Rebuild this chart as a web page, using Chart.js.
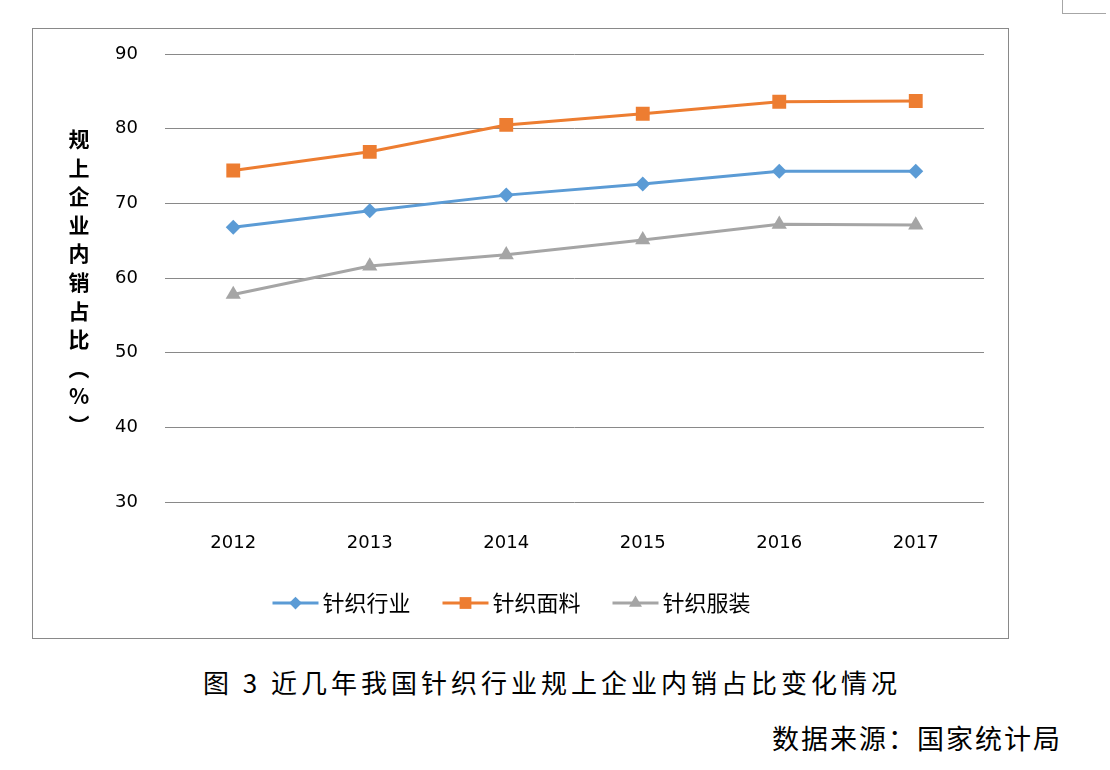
<!DOCTYPE html>
<html>
<head>
<meta charset="utf-8">
<script src="https://cdn.jsdelivr.net/npm/chart.js@4"></script>
<style>
  body { margin: 0; width: 1110px; height: 770px; background: #fff; position: relative; overflow: hidden;
         font-family: "Noto Sans CJK SC", sans-serif; }
  #box { position: absolute; left: 32px; top: 28px; width: 975px; height: 609px; border: 1px solid #898989; }
  #box canvas { display: block; }
  #ytitle { position: absolute; left: 64px; top: 124px; width: 30px; text-align: center;
            font-size: 21px; font-weight: bold; line-height: 28.6px; color: #000; }
  #caption { position: absolute; left: 203px; top: 664px; font-size: 26px; letter-spacing: 4px;
             color: #000; white-space: nowrap; line-height: 36px; }
  #source { position: absolute; right: 48px; top: 720px; font-size: 27px; letter-spacing: 2px;
            color: #000; white-space: nowrap; line-height: 36px; }
  #corner { position: absolute; left: 1062px; top: -1px; width: 43px; height: 14px;
            border-left: 1px solid #a6a6a6; border-bottom: 1px solid #a6a6a6; }
</style>
</head>
<body>
<div id="corner"></div>
<div id="box"><canvas id="chart" width="975" height="609"></canvas></div>
<div id="ytitle">规<br>上<br>企<br>业<br>内<br>销<br>占<br>比<br>︵<br>%<br>︶</div>
<div id="caption">图 3 近几年我国针织行业规上企业内销占比变化情况</div>
<div id="source">数据来源：国家统计局</div>
<script>
const years = ['2012', '2013', '2014', '2015', '2016', '2017'];
const knitIndustry = [66.8, 69.0, 71.1, 72.6, 74.3, 74.3];
const knitFabric = [74.4, 76.9, 80.5, 82.0, 83.6, 83.7];
const knitApparel = [57.8, 61.6, 63.1, 65.1, 67.2, 67.1];
const yMin = 30, yMax = 90, yStep = 10;

// legend under the plot: short line with the marker in the middle, then the label
const bottomLegend = {
    id: 'bottomLegend',
    afterDraw(chart) {
        const ctx = chart.ctx;
        ctx.save();
        ctx.font = '22px "Noto Sans CJK SC"';
        ctx.textBaseline = 'middle';
        const lineLen = 46, gap = 4, itemGap = 32;
        const items = chart.data.datasets.map(ds => ({ ds: ds, w: ctx.measureText(ds.label).width }));
        let total = items.reduce((s, it) => s + lineLen + gap + it.w, 0) + itemGap * (items.length - 1);
        let x = chart.width / 2 - 9 - total / 2;
        const y = 574;
        items.forEach(it => {
            const ds = it.ds;
            ctx.strokeStyle = ds.borderColor;
            ctx.lineWidth = 3;
            ctx.beginPath();
            ctx.moveTo(x, y);
            ctx.lineTo(x + lineLen, y);
            ctx.stroke();
            ctx.fillStyle = ds.borderColor;
            if (Chart.helpers && Chart.helpers.drawPoint) {
                Chart.helpers.drawPoint(ctx, {
                    pointStyle: ds.pointStyle, rotation: 0,
                    radius: ds.pointRadius * 0.85, borderWidth: 0
                }, x + lineLen / 2, y);
            }
            ctx.fillStyle = '#000';
            ctx.fillText(ds.label, x + lineLen + gap, y);
            x += lineLen + gap + it.w + itemGap;
        });
        ctx.restore();
    }
};

new Chart(document.getElementById('chart'), {
    type: 'line',
    data: {
        labels: years,
        datasets: [
            { label: '针织行业', data: knitIndustry, borderColor: '#5B9BD5', backgroundColor: '#5B9BD5',
              borderWidth: 3, pointStyle: 'rectRot', pointRadius: 7.5, pointBorderWidth: 0, tension: 0 },
            { label: '针织面料', data: knitFabric, borderColor: '#ED7D31', backgroundColor: '#ED7D31',
              borderWidth: 3, pointStyle: 'rect', pointRadius: 9.8, pointBorderWidth: 0, tension: 0 },
            { label: '针织服装', data: knitApparel, borderColor: '#A5A5A5', backgroundColor: '#A5A5A5',
              borderWidth: 3, pointStyle: 'triangle', pointRadius: 8.8, pointBorderWidth: 0, tension: 0 }
        ]
    },
    options: {
        responsive: false,
        animation: false,
        devicePixelRatio: 1,
        layout: { padding: { top: 25, right: 24, left: 0, bottom: 0 } },
        plugins: { legend: { display: false }, tooltip: { enabled: false } },
        scales: {
            x: {
                offset: true,
                grid: { display: false },
                border: { display: false },
                ticks: { color: '#000', padding: 23, font: { family: 'DejaVu Sans', size: 18 } },
                afterFit(scale) { scale.height = 136; }
            },
            y: {
                min: yMin, max: yMax,
                grid: { color: '#898989', lineWidth: 1, drawTicks: false },
                border: { display: false },
                ticks: { stepSize: yStep, color: '#000', padding: 27, font: { family: 'DejaVu Sans', size: 18 } },
                afterFit(scale) {
                    scale.width = 132;
                    scale.paddingTop = 0;
                    scale.paddingBottom = 0;
                }
            }
        }
    },
    plugins: [bottomLegend]
});
</script>
</body>
</html>
